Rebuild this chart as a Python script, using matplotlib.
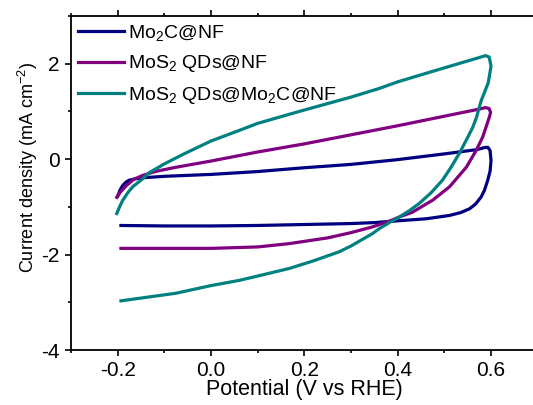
import matplotlib
matplotlib.use('Agg')
import matplotlib.pyplot as plt
from matplotlib.ticker import MultipleLocator

plt.rcParams['font.family'] = ['Liberation Sans', 'DejaVu Sans']
plt.rcParams['mathtext.fontset'] = 'custom'
plt.rcParams['mathtext.rm'] = 'Liberation Sans'
plt.rcParams['mathtext.it'] = 'Liberation Sans:italic'
plt.rcParams['mathtext.default'] = 'regular'

# Mo2C@NF (navy)
mo2c_x = [-0.200, -0.195, -0.189, -0.182, -0.175, -0.160, -0.146, -0.10, 0.00, 0.10, 0.20, 0.30,
          0.40, 0.50, 0.57, 0.585, 0.593, 0.598, 0.600, 0.598, 0.593, 0.586, 0.579, 0.567, 0.554,
          0.535, 0.511, 0.461, 0.404, 0.35, 0.30, 0.20, 0.10, 0.00, -0.10, -0.193]
mo2c_y = [-0.78, -0.65, -0.55, -0.48, -0.44, -0.41, -0.39, -0.36, -0.32, -0.26, -0.18, -0.11,
          -0.01, 0.11, 0.20, 0.24, 0.25, 0.18, -0.03, -0.25, -0.44, -0.65, -0.79, -0.94, -1.04,
          -1.12, -1.18, -1.25, -1.29, -1.33, -1.35, -1.37, -1.39, -1.40, -1.40, -1.39]

# MoS2 QDs@NF (purple)
mos2_x = [-0.202, -0.195, -0.182, -0.165, -0.146, -0.12, -0.075, 0.00, 0.10, 0.20, 0.30, 0.40,
          0.50, 0.575, 0.588, 0.596, 0.599, 0.597, 0.593, 0.582, 0.568, 0.547, 0.511, 0.475,
          0.432, 0.404, 0.382, 0.346, 0.30, 0.25, 0.168, 0.10, 0.00, -0.10, -0.193]
mos2_y = [-0.80, -0.70, -0.56, -0.42, -0.34, -0.26, -0.17, -0.04, 0.15, 0.32, 0.51, 0.70,
          0.90, 1.05, 1.08, 1.06, 0.98, 0.90, 0.78, 0.46, 0.18, -0.17, -0.58, -0.86,
          -1.11, -1.21, -1.30, -1.42, -1.54, -1.65, -1.77, -1.84, -1.87, -1.87, -1.87]

# MoS2 QDs@Mo2C@NF (teal)
both_x = [-0.202, -0.195, -0.189, -0.178, -0.168, -0.146, -0.132, -0.10, -0.06, 0.00, 0.06, 0.10,
          0.20, 0.30, 0.36, 0.40, 0.468, 0.53, 0.575, 0.588, 0.596, 0.600, 0.594, 0.586, 0.579,
          0.569, 0.561, 0.547, 0.532, 0.515, 0.496, 0.472, 0.446, 0.425, 0.404, 0.382, 0.36, 0.346,
          0.30, 0.275, 0.22, 0.168, 0.10, 0.061, 0.00, -0.075, -0.193]
both_y = [-1.14, -0.98, -0.86, -0.70, -0.58, -0.41, -0.28, -0.10, 0.10, 0.38, 0.60, 0.75,
          1.03, 1.30, 1.48, 1.62, 1.82, 2.00, 2.13, 2.17, 2.14, 1.95, 1.60, 1.40, 1.23,
          0.88, 0.67, 0.40, 0.12, -0.16, -0.44, -0.70, -0.93, -1.08, -1.21, -1.33, -1.46, -1.56,
          -1.82, -1.94, -2.13, -2.29, -2.45, -2.54, -2.65, -2.81, -2.97]

labels = ['Mo$_2$C@NF', 'MoS$_2$ QDs@NF', 'MoS$_2$ QDs@Mo$_2$C@NF']
colors = ['#000080', '#800080', '#008080']
xticks = [-0.2, 0.0, 0.2, 0.4, 0.6]
yticks = [-4, -2, 0, 2]

fig = plt.figure(figsize=(5.33, 4.05), dpi=100)
ax = fig.add_axes([71 / 533, 55 / 405, 466.7 / 533, 334 / 405])

for xs, ys, lab, col in zip([mo2c_x, mos2_x, both_x], [mo2c_y, mos2_y, both_y], labels, colors):
    ax.plot(xs, ys, color=col, lw=2.3, label=lab, solid_joinstyle='round')

ax.set_xlim(-0.3, 0.7)
ax.set_ylim(-4, 3)
ax.xaxis.set_minor_locator(MultipleLocator(0.1))
ax.yaxis.set_minor_locator(MultipleLocator(1))
ax.set_xticks(xticks)
ax.set_xticklabels(['%.1f' % v for v in xticks])
ax.set_yticks(yticks)
ax.set_yticklabels([str(v) for v in yticks])

ax.tick_params(which='major', direction='out', length=4, width=1.2, labelsize=15, pad=4)
ax.tick_params(which='minor', direction='out', length=2.5, width=1.2)
ax.tick_params(axis='x', which='both', top=True, labeltop=False)
ax.tick_params(axis='y', which='both', right=False)
for sp in ax.spines.values():
    sp.set_linewidth(1.3)
ax.spines['right'].set_visible(False)

ax.set_xlabel('Potential (V vs RHE)', fontsize=15.5)
ax.xaxis.set_label_coords(0.5, -0.088)
ax.set_ylabel('Current density (mA cm$^{-2}$)', fontsize=13)
ax.yaxis.set_label_coords(-0.066, 0.545)

ax.legend(loc='upper left', frameon=False, fontsize=14, handlelength=2.4, handletextpad=0.2,
          labelspacing=0.55, borderaxespad=0.1, borderpad=0.25)

fig.savefig('out.png', dpi=100)
